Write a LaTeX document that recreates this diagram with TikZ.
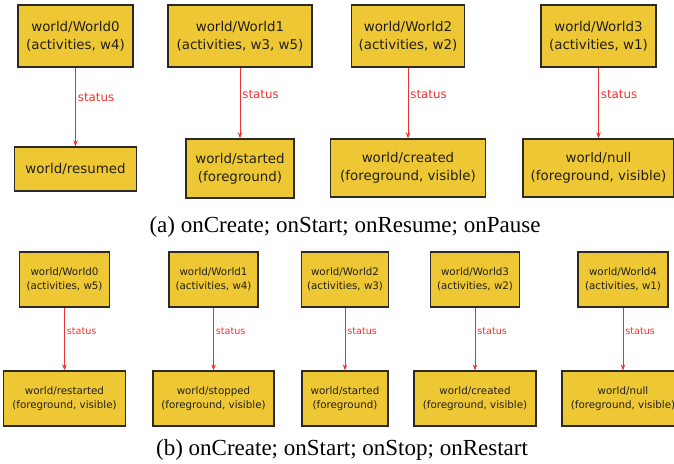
\documentclass[tikz,border=0pt]{standalone}
\usepackage{fontspec}
\setmainfont{Liberation Serif}
\newfontfamily\boxfont{DejaVu Sans}
\usetikzlibrary{arrows.meta}

\definecolor{boxfill}{RGB}{238,199,52}
\definecolor{boxedge}{RGB}{45,42,38}
\definecolor{flowred}{RGB}{232,52,48}
\definecolor{boxtext}{RGB}{35,32,28}

\tikzset{
  statebox/.style={draw=boxedge, fill=boxfill, inner sep=0pt, align=center,
    text=boxtext},
  bigbox/.style={statebox, line width=1.4pt,
    font=\boxfont\fontsize{13.4}{18}\selectfont},
  smallbox/.style={statebox, line width=1.2pt, minimum height=55pt,
    font=\boxfont\fontsize{10.3}{14.5}\selectfont},
  flow/.style={draw=flowred, line width=0.9pt,
    -{Stealth[length=6pt,width=4.5pt]}},
  biglbl/.style={text=flowred, anchor=west, inner sep=2pt,
    font=\boxfont\fontsize{11.8}{13}\selectfont},
  smalllbl/.style={text=flowred, anchor=west, inner sep=2pt,
    font=\boxfont\fontsize{9.6}{11}\selectfont},
  caption/.style={font=\fontsize{23}{26}\selectfont, text=black}
}

\begin{document}
\begin{tikzpicture}[x=1pt, y=-1pt]
  \useasboundingbox (0,0) rectangle (674,463);
  \clip (0,0) rectangle (674,463);

  % ---- (a) onCreate; onStart; onResume; onPause ----
  \node[bigbox, minimum width=115pt, minimum height=62pt] (a0) at (75.5,36)
    {world/World0\\(activities, w4)};
  \node[bigbox, minimum width=122pt, minimum height=44pt] (a0s) at (75.5,169)
    {world/resumed};
  \node[bigbox, minimum width=144pt, minimum height=62pt] (a1) at (240,36)
    {world/World1\\(activities, w3, w5)};
  \node[bigbox, minimum width=108pt, minimum height=59pt] (a1s) at (240,168.5)
    {world/started\\(foreground)};
  \node[bigbox, minimum width=113pt, minimum height=62pt] (a2) at (408,36)
    {world/World2\\(activities, w2)};
  \node[bigbox, minimum width=155pt, minimum height=58pt] (a2s) at (408,168)
    {world/created\\(foreground, visible)};
  \node[bigbox, minimum width=115pt, minimum height=62pt] (a3) at (598.5,36)
    {world/World3\\(activities, w1)};
  \node[bigbox, minimum width=151pt, minimum height=58pt] (a3s) at (598.5,168)
    {world/null\\(foreground, visible)};

  \foreach \u/\v in {a0/a0s, a1/a1s, a2/a2s, a3/a3s}
    \draw[flow] (\u) -- node[biglbl, pos=0.38] {status} (\v);

  \node[caption] (capa) at (345,227) {(a) onCreate; onStart; onResume; onPause};

  % ---- (b) onCreate; onStart; onStop; onRestart ----
  \node[smallbox, minimum width=90pt] (b0) at (64.5,279.5)
    {world/World0\\(activities, w5)};
  \node[smallbox, minimum width=122pt] (b0s) at (64.5,398.5)
    {world/restarted\\(foreground, visible)};
  \node[smallbox, minimum width=89pt] (b1) at (213.5,279.5)
    {world/World1\\(activities, w4)};
  \node[smallbox, minimum width=121pt] (b1s) at (213.5,398.5)
    {world/stopped\\(foreground, visible)};
  \node[smallbox, minimum width=87pt] (b2) at (345,279.5)
    {world/World2\\(activities, w3)};
  \node[smallbox, minimum width=86pt] (b2s) at (345,398.5)
    {world/started\\(foreground)};
  \node[smallbox, minimum width=89pt] (b3) at (475,279.5)
    {world/World3\\(activities, w2)};
  \node[smallbox, minimum width=122pt] (b3s) at (475,398.5)
    {world/created\\(foreground, visible)};
  \node[smallbox, minimum width=90pt] (b4) at (623,279.5)
    {world/World4\\(activities, w1)};
  \node[smallbox, minimum width=122pt] (b4s) at (623,398.5)
    {world/null\\(foreground, visible)};

  \foreach \u/\v in {b0/b0s, b1/b1s, b2/b2s, b3/b3s, b4/b4s}
    \draw[flow] (\u) -- node[smalllbl, pos=0.38] {status} (\v);

  \node[caption] (capb) at (342,450) {(b) onCreate; onStart; onStop; onRestart};
\end{tikzpicture}
\end{document}
